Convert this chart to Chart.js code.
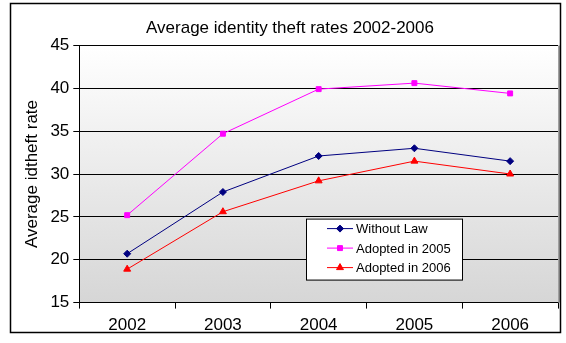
<!DOCTYPE html>
<html>
<head>
<meta charset="utf-8">
<script src="https://cdn.jsdelivr.net/npm/chart.js@4/dist/chart.umd.min.js"></script>
<style>
  html, body { margin: 0; padding: 0; background: #fff; }
  #wrap { width: 566px; height: 343px; position: relative; }
</style>
</head>
<body>
<div id="wrap"><canvas id="mainChart" width="566" height="343"></canvas></div>
<script>
// categorias e séries
const years = ["2002", "2003", "2004", "2005", "2006"];
const withoutLaw = [20.7, 27.9, 32.1, 33.0, 31.5];
const adopted2005 = [25.2, 34.7, 39.9, 40.6, 39.4];
const adopted2006 = [18.9, 25.6, 29.2, 31.5, 30.0];
const yTicks = [15, 20, 25, 30, 35, 40, 45];

const FONT = "'Liberation Sans', Arial, sans-serif";

// moldura externa + fundo em degradê da área do gráfico
const backgroundPlugin = {
  id: "bgFrame",
  beforeDraw(chart) {
    const { ctx, chartArea: a } = chart;
    ctx.save();
    ctx.fillStyle = "#fff";
    ctx.fillRect(0, 0, chart.width, chart.height);
    const g = ctx.createLinearGradient(0, a.top, 0, a.bottom);
    g.addColorStop(0, "#ffffff");
    g.addColorStop(1, "#d6d6d6");
    ctx.fillStyle = g;
    ctx.fillRect(a.left, a.top, a.right - a.left, a.bottom - a.top);
    ctx.restore();
  },
  afterDraw(chart) {
    const { ctx, chartArea: a } = chart;
    ctx.save();
    // borda cinza à direita da área
    ctx.strokeStyle = "#a0a0a0";
    ctx.lineWidth = 2;
    ctx.beginPath();
    ctx.moveTo(a.right + 1, a.top);
    ctx.lineTo(a.right + 1, a.bottom);
    ctx.stroke();
    // moldura externa
    ctx.strokeStyle = "#000";
    ctx.lineWidth = 1.5;
    ctx.strokeRect(10.5, 3.5, 550, 329);
    ctx.restore();
  }
};

// legenda desenhada dentro da área do gráfico
const insideLegend = {
  id: "insideLegend",
  afterDatasetsDraw(chart) {
    const { ctx, chartArea: a } = chart;
    const w = 156, h = 61;
    const x = a.right - 96 - w;
    const y = a.bottom - 23 - h;
    ctx.save();
    ctx.fillStyle = "#fff";
    ctx.fillRect(x, y, w, h);
    ctx.strokeStyle = "#000";
    ctx.lineWidth = 1;
    ctx.strokeRect(x + 0.5, y + 0.5, w, h);
    ctx.font = "13px " + FONT;
    ctx.textBaseline = "middle";
    chart.data.datasets.forEach((ds, i) => {
      const ly = y + 10 + i * 19.5;
      ctx.strokeStyle = ds.borderColor;
      ctx.lineWidth = 1;
      ctx.beginPath();
      ctx.moveTo(x + 21, ly);
      ctx.lineTo(x + 47, ly);
      ctx.stroke();
      ctx.fillStyle = ds.pointBackgroundColor;
      ctx.strokeStyle = ds.pointBackgroundColor;
      Chart.helpers.drawPoint(ctx, {
        pointStyle: ds.pointStyle,
        radius: ds.pointRadius,
        rotation: 0,
        borderWidth: 1
      }, x + 34, ly);
      ctx.fillStyle = "#000";
      ctx.fillText(ds.label, x + 50, ly + 1);
    });
    ctx.restore();
  }
};

function makeSeries(label, data, color, style, radius) {
  return {
    label: label,
    data: data,
    borderColor: color,
    backgroundColor: color,
    pointBackgroundColor: color,
    pointBorderColor: color,
    pointStyle: style,
    pointRadius: radius,
    pointBorderWidth: 1,
    borderWidth: 1,
    tension: 0
  };
}

const ctx = document.getElementById("mainChart").getContext("2d");
new Chart(ctx, {
  type: "line",
  data: {
    labels: years,
    datasets: [
      makeSeries("Without Law", withoutLaw, "#000080", "rectRot", 3.5),
      makeSeries("Adopted in 2005", adopted2005, "#ff00ff", "rect", 3.5),
      makeSeries("Adopted in 2006", adopted2006, "#ff0000", "triangle", 4)
    ]
  },
  options: {
    responsive: false,
    animation: false,
    layout: { padding: { left: 22, right: 8, top: 2, bottom: 0 } },
    plugins: {
      legend: { display: false },
      tooltip: { enabled: false },
      title: {
        display: true,
        text: "Average identity theft rates 2002-2006",
        color: "#000",
        font: { family: FONT, size: 17, weight: "normal" },
        padding: { top: 16, bottom: 7 }
      }
    },
    scales: {
      x: {
        offset: true,
        grid: {
          offset: true,
          drawOnChartArea: false,
          color: "#000",
          tickLength: 6
        },
        border: { color: "#000", width: 1 },
        ticks: {
          color: "#000",
          font: { family: FONT, size: 17 },
          padding: 7
        }
      },
      y: {
        min: 15,
        max: 45,
        afterBuildTicks(axis) {
          axis.ticks = yTicks.map((v) => ({ value: v }));
        },
        grid: { color: "#000", tickLength: 6 },
        border: { color: "#000", width: 1 },
        ticks: {
          color: "#000",
          font: { family: FONT, size: 17 },
          padding: 4
        },
        title: {
          display: true,
          text: "Average idtheft rate",
          color: "#000",
          font: { family: FONT, size: 17 },
          padding: { top: 0, bottom: 4 }
        }
      }
    }
  },
  plugins: [backgroundPlugin, insideLegend]
});
</script>
</body>
</html>
